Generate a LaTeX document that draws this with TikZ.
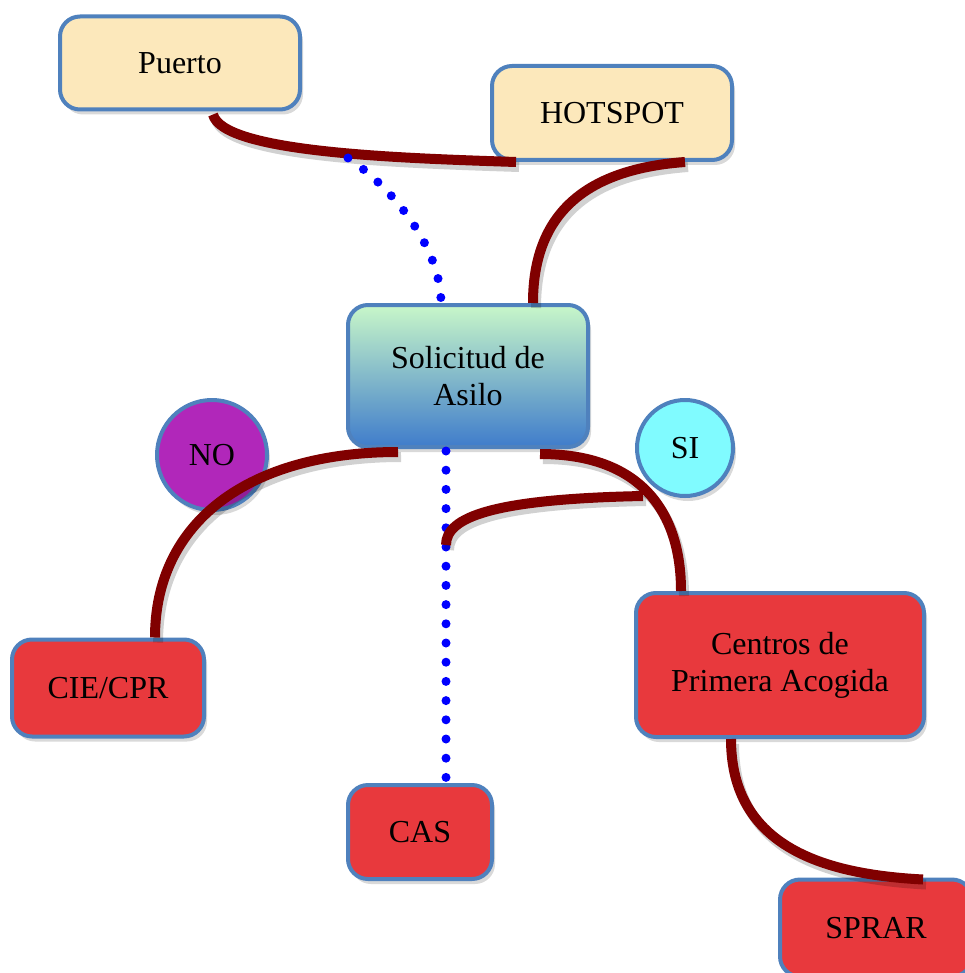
\documentclass[tikz,border=0pt]{standalone}
\usepackage{fontspec}
\setmainfont{Liberation Serif}
\usetikzlibrary{calc,shadows}
\definecolor{caja}{HTML}{FCE8BB}
\definecolor{rojo}{HTML}{E8393D}
\definecolor{borde}{HTML}{4F81BD}
\definecolor{granate}{HTML}{800000}
\definecolor{verdeclaro}{HTML}{C8F7C9}
\definecolor{azulsol}{HTML}{3F7CCB}
\definecolor{morado}{HTML}{B127BA}
\definecolor{celeste}{HTML}{80FBFF}
\begin{document}
\begin{tikzpicture}[x=0.5pt,y=-0.5pt,
	caja/.style={draw=borde, line width=2pt, rounded corners=10pt, align=center,
		font=\fontsize{16}{18.5}\selectfont,
		drop shadow={opacity=0.3, shadow xshift=1.5pt, shadow yshift=-2.5pt}},
	bola/.style={circle, draw=borde, line width=2pt, inner sep=0pt,
		font=\fontsize{16}{18.5}\selectfont,
		drop shadow={opacity=0.3, shadow xshift=1.5pt, shadow yshift=-2.5pt}},
	rama/.style={draw=granate, line width=5pt,
		preaction={draw=black, opacity=0.18, line width=5pt, transform canvas={xshift=1.5pt, yshift=-2.5pt}}},
	punteado/.style={draw=blue, line width=4.5pt, line cap=round, dash pattern=on 0pt off 9.6pt}]
\useasboundingbox (0,0) rectangle (964,973);
\node[caja, fill=caja, minimum width=120pt, minimum height=46.5pt] (puerto) at (180,63) {Puerto};
\node[caja, fill=caja, minimum width=120pt, minimum height=47pt] (hotspot) at (612,113) {HOTSPOT};
\node[caja, top color=verdeclaro, bottom color=azulsol, minimum width=120pt, minimum height=71pt] (sol) at (468,376) {Solicitud de\\Asilo};
\node[bola, fill=morado, minimum size=55pt] (no) at (212,455) {NO};
\node[bola, fill=celeste, minimum size=48pt] (si) at (685,448) {SI};
\node[caja, fill=rojo, minimum width=96pt, minimum height=48.5pt] (cie) at (108,688) {CIE/CPR};
\node[caja, fill=rojo, minimum width=72pt, minimum height=47pt] (cas) at (420,832) {CAS};
\node[caja, fill=rojo, minimum width=144pt, minimum height=72pt] (centros) at (780,665) {Centros de\\Primera Acogida};
\node[caja, fill=rojo, minimum width=96pt, minimum height=48.5pt] (sprar) at (876,928) {SPRAR};
\coordinate (puertofork) at (348,158);
\coordinate (casfork) at (446,545);
\draw[rama] ($(puerto.south)+(33,3)$) .. controls +(10,38) and +(-120,-4) .. ($(hotspot.south west)+(26,0)$);
\draw[rama] ($(hotspot.south)+(73,0)$) .. controls +(-110,8) and +(0,-80) .. ($(sol.north)+(65,0)$);
\draw[punteado] (puertofork) .. controls +(45,30) and +(0,-55) .. ($(sol.north)+(-27,0)$);
\draw[rama] ($(sol.south)+(-70,3)$) .. controls +(-150,0) and +(0,-115) .. ($(cie.north)+(47,0)$);
\draw[rama] ($(sol.south)+(72,5)$) .. controls +(100,0) and +(0,-80) .. ($(centros.north west)+(47,0)$);
\draw[punteado] ($(sol.south)+(-22,2)$) -- ($(cas.north)+(26,0)$);
\draw[rama] ($(si.south)+(-42,-2)$) .. controls +(-150,3) and +(0,-28) .. (casfork);
\draw[rama] ($(centros.south west)+(97,0)$) .. controls +(0,110) and +(-95,-5) .. ($(sprar.north west)+(145,2)$);
\end{tikzpicture}
\end{document}
